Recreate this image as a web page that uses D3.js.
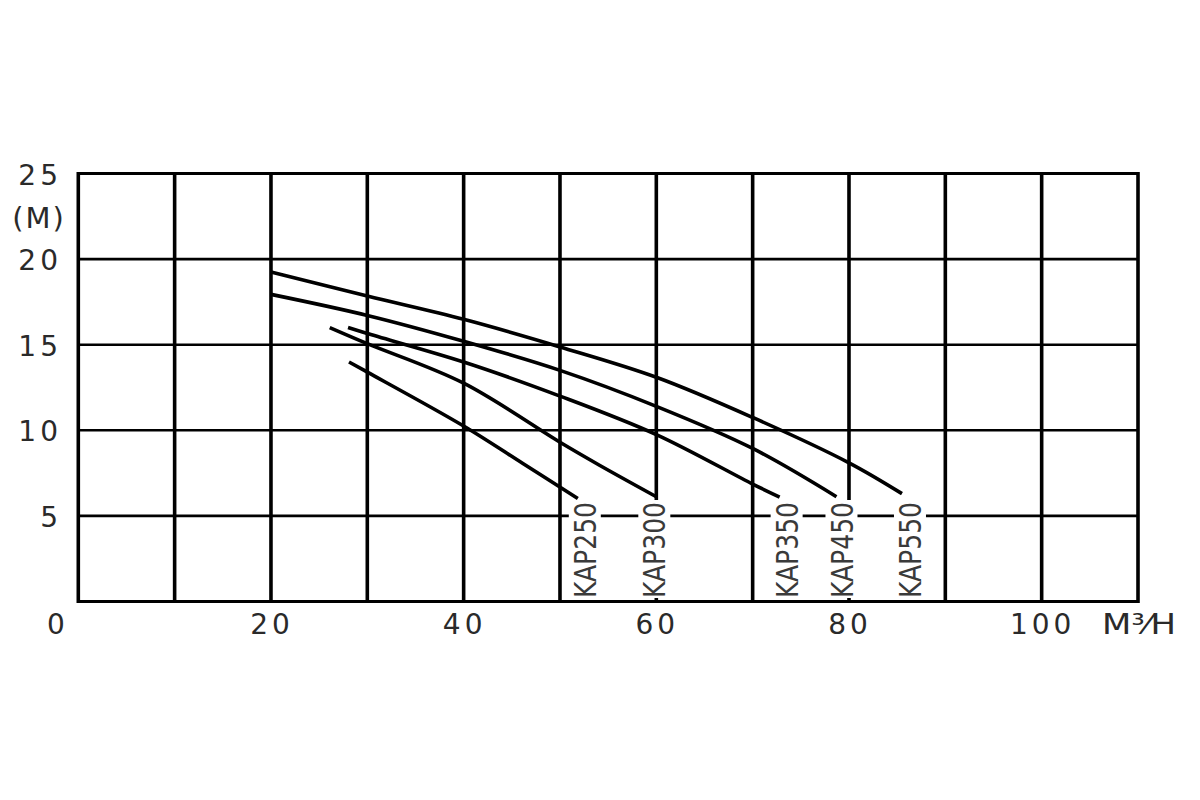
<!DOCTYPE html>
<html><head><meta charset="utf-8">
<script src="https://cdn.jsdelivr.net/npm/d3@7/dist/d3.min.js"></script>
<style>html,body{margin:0;padding:0;background:#fff;}</style>
</head><body>
<svg id="chart" width="1200" height="800"></svg>
<script>
// ---- data ----
const xGrid = [0,10,20,30,40,50,60,70,80,90,100,110];
const yGrid = [0,5,10,15,20,25];
const xTickLabels = [20,40,60,80,100];
const yTickLabels = [5,10,15,20,25];
const xUnit = "M³⁄H";
const yUnit = "(M)";
const seriesNames = ["KAP550","KAP450","KAP350","KAP300","KAP250"];
const flowKAP550 = [20, 30, 40, 50, 60, 70, 80, 85.5];
const headKAP550 = [19.24, 17.84, 16.48, 14.87, 13.1, 10.75, 8.1, 6.3];
const flowKAP450 = [20, 30, 40, 50, 60, 70, 78.7];
const headKAP450 = [17.94, 16.71, 15.2, 13.5, 11.4, 8.94, 6.12];
const flowKAP350 = [28, 30, 40, 50, 60, 70, 72.8];
const headKAP350 = [16.0, 15.65, 13.99, 12.0, 9.75, 6.86, 6.1];
const flowKAP300 = [26.1, 30, 40, 50, 54.1, 60];
const headKAP300 = [16.0, 15.06, 12.75, 9.3, 7.96, 6.12];
const flowKAP250 = [28.1, 30, 40, 46.15, 51.85];
const headKAP250 = [13.99, 13.4, 10.25, 8.06, 6.02];

const flows = {KAP550: flowKAP550, KAP450: flowKAP450, KAP350: flowKAP350, KAP300: flowKAP300, KAP250: flowKAP250};
const heads = {KAP550: headKAP550, KAP450: headKAP450, KAP350: headKAP350, KAP300: headKAP300, KAP250: headKAP250};

// ---- layout / style ----
const labelDx = {KAP550: 8, KAP450: 5, KAP350: 7, KAP300: -2, KAP250: 7};
const svg = d3.select("#chart");
const x = d3.scaleLinear().domain([0,110]).range([78.3,1138]);
const y = d3.scaleLinear().domain([0,25]).range([601.5,173.5]);
const tickFont = "'DejaVu Sans', sans-serif";
const textColor = "#2a2a2a";

// grid
const g = svg.append("g");
g.selectAll("line.h").data(yGrid).join("line")
  .attr("x1", x(0)).attr("x2", x(110))
  .attr("y1", d => y(d)).attr("y2", d => y(d))
  .attr("stroke", "#000").attr("stroke-width", d => (d===0||d===25) ? 3 : 2.6);
g.selectAll("line.v").data(xGrid).join("line")
  .attr("y1", y(0)+1.5).attr("y2", y(25)-1.5)
  .attr("x1", d => x(d)).attr("x2", d => x(d))
  .attr("stroke", "#000").attr("stroke-width", 3.6);

// curves
const line = d3.line().x(d => x(d[0])).y(d => y(d[1])).curve(d3.curveCatmullRom.alpha(0.5));
seriesNames.forEach(name => {
  const pts = flows[name].map((f,i) => [f, heads[name][i]]);
  svg.append("path").attr("d", line(pts))
    .attr("fill","none").attr("stroke","#000").attr("stroke-width",3.6)
    .attr("stroke-linecap","butt");
});

// series labels (rotated, with white background)
seriesNames.forEach(name => {
  const f = flows[name];
  const cx = x(f[f.length-1]) + labelDx[name];
  const yb = y(0) - 3.5;
  svg.append("rect").attr("x", cx-16).attr("y", yb-98).attr("width", 32).attr("height", 98)
    .attr("fill","#fff");
  svg.append("text")
    .attr("transform", `translate(${cx},${yb}) rotate(-90)`)
    .attr("text-anchor","start").attr("dy","0.36em")
    .attr("font-family", tickFont).attr("font-size", 31)
    .attr("textLength", 96).attr("lengthAdjust","spacingAndGlyphs")
    .attr("fill","#3a3a3a").text(name);
});

// x tick labels
svg.selectAll("text.xt").data(xTickLabels).join("text")
  .attr("x", d => x(d)+1).attr("y", 634)
  .attr("text-anchor","middle").attr("font-family", tickFont).attr("font-size", 28)
  .attr("letter-spacing", 4).attr("fill", textColor).text(d => d);
svg.append("text").attr("x", 56).attr("y", 634).attr("text-anchor","middle")
  .attr("font-family", tickFont).attr("font-size", 28).attr("fill", textColor).text("0");

// y tick labels
svg.selectAll("text.yt").data(yTickLabels).join("text")
  .attr("x", 62).attr("y", d => y(d)+11)
  .attr("text-anchor","end").attr("font-family", tickFont).attr("font-size", 28)
  .attr("letter-spacing", 4).attr("fill", textColor).text(d => d);
svg.append("text").attr("x", 39).attr("y", 228).attr("text-anchor","middle")
  .attr("font-family", tickFont).attr("font-size", 29).attr("letter-spacing", 2)
  .attr("fill", textColor).text(yUnit);

// x unit "M³⁄H"
svg.append("text").attr("x", 1102).attr("y", 634)
  .attr("font-family", tickFont).attr("font-size", 28).attr("fill", textColor)
  .attr("textLength", 74).attr("lengthAdjust","spacingAndGlyphs")
  .text(xUnit);
</script>
</body></html>
